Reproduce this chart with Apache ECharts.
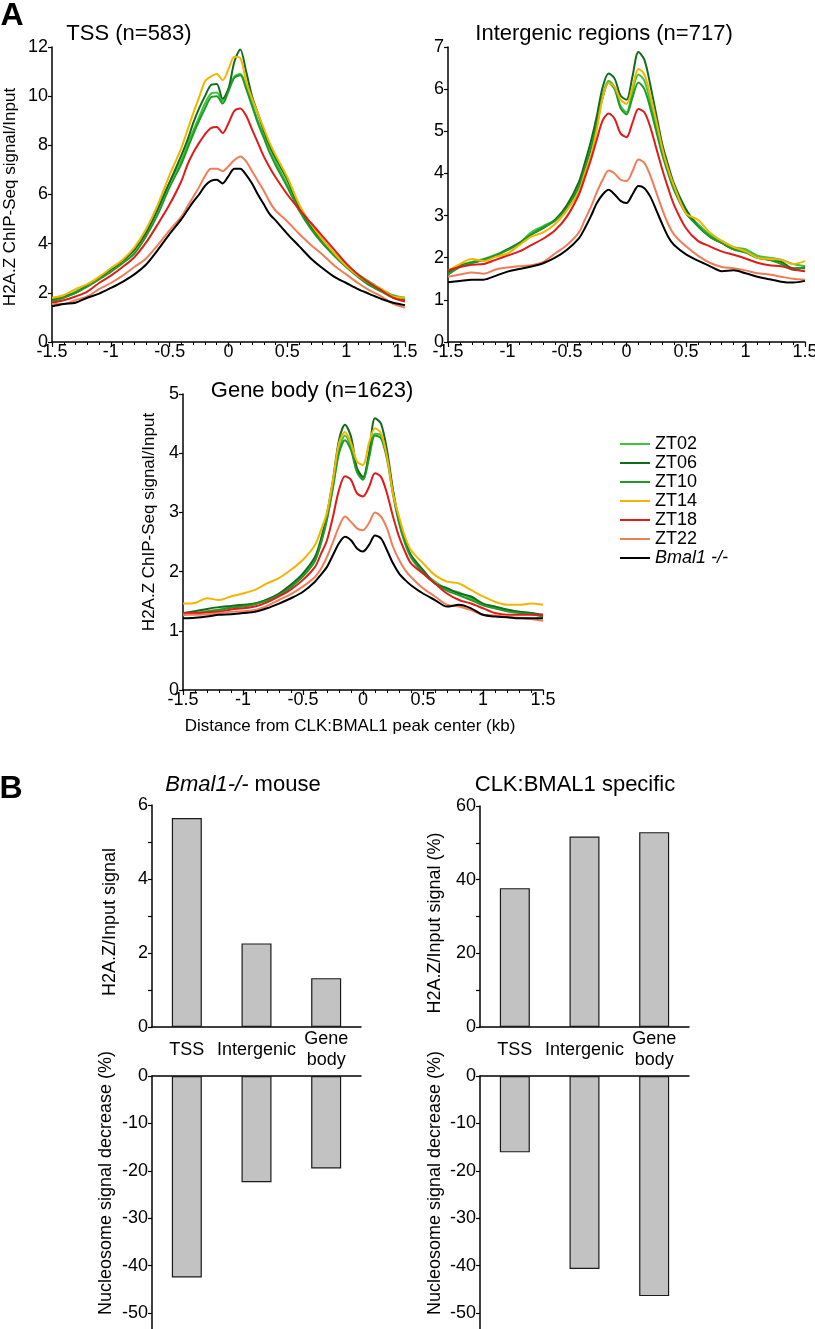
<!DOCTYPE html>
<html>
<head>
<meta charset="utf-8">
<script src="https://cdn.jsdelivr.net/npm/echarts@6/dist/echarts.min.js"></script>
<style>
html,body{margin:0;padding:0;background:#fff;}
#chart{width:815px;height:1329px;}
</style>
</head>
<body>
<div id="chart"></div>
<script>
// ---------- DATA ----------
const xs = [-1.5,-1.4,-1.3,-1.2,-1.1,-1.0,-0.9,-0.8,-0.7,-0.6,-0.5,-0.4,-0.35,-0.3,-0.25,-0.2,-0.15,-0.1,-0.05,0,0.05,0.1,0.15,0.2,0.25,0.3,0.35,0.4,0.5,0.6,0.7,0.8,0.9,1.0,1.1,1.2,1.3,1.4,1.5];
const seriesNames = ['ZT02','ZT06','ZT10','ZT14','ZT18','ZT22','Bmal1 -/-'];

// TSS (n=583)
const tssZT02 = [1.75,1.85,2.05,2.3,2.6,2.95,3.3,3.75,4.45,5.5,6.5,7.4, 8.0,8.6,9.15,9.7,10.1,10.15,9.8,10.3,10.8,10.9,10.4,9.7,9.0,8.4,7.9, 7.35,6.4,5.5,4.75,4.15,3.6,3.15,2.75,2.45,2.15,1.9,1.8];
const tssZT06 = [1.7,1.85,2.0,2.3,2.6,2.95,3.3,3.75,4.45,5.4,6.5,7.6, 8.2,8.9,9.5,10.0,10.45,10.5,9.9,10.3,11.4,11.9,11.0,10.0,9.3,8.6,8.0, 7.5,6.6,5.5,4.7,4.1,3.55,3.1,2.7,2.35,2.1,1.85,1.75];
const tssZT10 = [1.65,1.8,2.0,2.25,2.55,2.85,3.2,3.6,4.3,5.2,6.3,7.25, 7.85,8.45,9.0,9.5,9.95,10.0,9.7,10.2,10.75,10.85,10.3,9.6,8.9,8.3,7.7, 7.2,6.3,5.35,4.6,4.0,3.5,3.05,2.65,2.3,2.05,1.8,1.7];
const tssZT14 = [1.8,1.9,2.15,2.35,2.65,3.0,3.35,3.85,4.6,5.6,6.8,7.9, 8.6,9.3,9.95,10.6,10.8,10.9,10.65,11.1,11.6,11.55,10.6,9.9,9.3,8.7,8.1, 7.6,6.7,5.6,4.8,4.15,3.6,3.1,2.7,2.4,2.15,1.85,1.8];
const tssZT18 = [1.6,1.7,1.85,2.05,2.4,2.7,3.05,3.45,4.05,4.8,5.6,6.55, 7.2,7.7,8.1,8.45,8.7,8.75,8.5,8.9,9.4,9.5,9.2,8.65,8.1,7.55,7.1, 6.7,6.0,5.4,4.85,4.3,3.75,3.2,2.75,2.4,2.1,1.8,1.65];
const tssZT22 = [1.55,1.55,1.7,1.85,2.15,2.4,2.7,3.05,3.4,3.95,4.55,5.1, 5.5,5.9,6.3,6.75,7.05,7.05,6.95,7.15,7.4,7.55,7.35,6.95,6.55,6.15,5.7, 5.35,4.9,4.4,3.95,3.55,3.1,2.75,2.4,2.1,1.85,1.55,1.4];
const tssBmal = [1.45,1.55,1.6,1.8,1.97,2.2,2.45,2.75,3.15,3.75,4.4,5.0, 5.35,5.7,6.0,6.35,6.55,6.6,6.45,6.75,7.05,7.05,6.8,6.45,6.0,5.6,5.2, 4.95,4.4,3.9,3.4,3.0,2.65,2.4,2.15,1.95,1.75,1.6,1.5];

// Intergenic regions (n=717)
const igZT02 = [1.65,1.82,1.9,1.97,2.07,2.2,2.35,2.6,2.75,2.9,3.2,3.7, 4.15,4.6,5.2,5.85,6.2,6.05,5.6,5.45,5.95,6.35,6.2,5.7,5.1,4.5,4.05, 3.65,3.1,2.8,2.55,2.4,2.25,2.2,2.05,2.0,1.95,1.85,1.8];
const igZT06 = [1.65,1.8,1.88,1.95,2.05,2.2,2.35,2.55,2.7,2.9,3.25,3.8, 4.25,4.75,5.35,6.05,6.37,6.25,5.85,5.75,6.3,6.88,6.7,6.1,5.4,4.7,4.2, 3.75,3.15,2.75,2.5,2.35,2.2,2.15,2.0,1.95,1.9,1.75,1.75];
const igZT10 = [1.6,1.78,1.87,1.95,2.05,2.18,2.33,2.55,2.72,2.88,3.18,3.68, 4.12,4.58,5.15,5.8,6.15,6.0,5.55,5.4,5.8,6.16,6.0,5.55,5.0,4.45,4.0, 3.6,3.05,2.75,2.5,2.35,2.2,2.12,2.0,1.95,1.85,1.72,1.78];
const igZT14 = [1.7,1.85,1.97,1.92,2.02,2.1,2.3,2.5,2.6,2.8,3.13,3.57, 4.0,4.4,5.03,5.8,6.15,6.05,5.75,5.65,6.05,6.48,6.35,5.85,5.25,4.6,4.1, 3.7,3.05,2.9,2.6,2.4,2.25,2.15,2.0,1.97,1.95,1.85,1.92];
const igZT18 = [1.7,1.78,1.83,1.85,1.95,2.05,2.15,2.3,2.45,2.65,2.98,3.5, 3.9,4.32,4.8,5.26,5.42,5.3,4.95,4.86,5.2,5.53,5.45,5.1,4.6,4.1,3.65, 3.25,2.7,2.4,2.27,2.15,2.07,1.98,1.88,1.82,1.8,1.72,1.68];
const igZT22 = [1.55,1.6,1.65,1.62,1.72,1.77,1.8,1.82,1.9,2.1,2.3,2.6, 2.9,3.2,3.55,3.85,4.07,4.0,3.85,3.82,4.05,4.33,4.25,3.95,3.55,3.15,2.8, 2.55,2.27,2.05,1.88,1.78,1.75,1.7,1.63,1.6,1.55,1.5,1.48];
const igBmal = [1.42,1.45,1.48,1.48,1.57,1.67,1.73,1.79,1.87,2.0,2.19,2.46, 2.7,2.98,3.29,3.5,3.61,3.5,3.35,3.3,3.5,3.7,3.65,3.45,3.13,2.8,2.5, 2.3,2.08,1.93,1.8,1.68,1.7,1.63,1.55,1.49,1.43,1.41,1.45];

// Gene body (n=1623)
const gbZT02 = [1.28,1.3,1.33,1.36,1.4,1.42,1.46,1.52,1.6,1.75,1.93,2.2, 2.5,2.9,3.45,4.05,4.3,4.1,3.7,3.56,3.95,4.33,4.3,3.95,3.35,2.85,2.5, 2.27,2.0,1.83,1.7,1.65,1.55,1.45,1.4,1.35,1.32,1.3,1.25];
const gbZT06 = [1.3,1.33,1.37,1.4,1.42,1.44,1.46,1.53,1.63,1.78,1.97,2.25, 2.55,2.98,3.55,4.22,4.48,4.28,3.75,3.6,4.0,4.59,4.5,4.05,3.38,2.87,2.53, 2.28,2.03,1.8,1.72,1.63,1.58,1.46,1.41,1.36,1.32,1.3,1.27];
const gbZT10 = [1.27,1.29,1.32,1.35,1.39,1.41,1.45,1.51,1.6,1.74,1.92,2.18, 2.48,2.88,3.42,4.0,4.22,4.05,3.68,3.55,3.92,4.3,4.25,3.9,3.3,2.82,2.48, 2.24,1.98,1.8,1.68,1.6,1.52,1.43,1.38,1.33,1.3,1.28,1.24];
const gbZT14 = [1.46,1.47,1.55,1.52,1.58,1.63,1.69,1.8,1.89,2.03,2.2,2.45, 2.7,3.0,3.55,4.17,4.36,4.17,3.86,3.8,4.17,4.42,4.34,3.94,3.32,2.93,2.59, 2.36,2.14,1.94,1.83,1.8,1.69,1.58,1.49,1.44,1.44,1.46,1.44];
const gbZT18 = [1.3,1.3,1.31,1.32,1.36,1.38,1.41,1.48,1.58,1.7,1.86,2.08, 2.3,2.53,2.93,3.38,3.61,3.55,3.32,3.27,3.43,3.66,3.6,3.32,2.93,2.59,2.34, 2.14,1.97,1.8,1.63,1.52,1.46,1.38,1.3,1.27,1.27,1.27,1.27];
const gbZT22 = [1.27,1.27,1.28,1.3,1.32,1.33,1.35,1.42,1.52,1.62,1.75,1.91, 2.05,2.25,2.5,2.76,2.93,2.84,2.73,2.7,2.82,3.0,2.93,2.73,2.42,2.2,2.03, 1.91,1.72,1.58,1.44,1.41,1.35,1.27,1.26,1.24,1.22,1.2,1.17];
const gbBmal = [1.21,1.22,1.24,1.27,1.28,1.3,1.32,1.38,1.46,1.55,1.66,1.83, 1.95,2.08,2.28,2.48,2.59,2.53,2.39,2.34,2.45,2.61,2.56,2.36,2.14,1.97,1.86, 1.77,1.63,1.52,1.41,1.44,1.38,1.27,1.24,1.23,1.21,1.21,1.21];

// Panel B
const bCategories = ['TSS','Intergenic','Gene\nbody'];
const bmalSignal = [5.65, 2.26, 1.32];
const bmalDecrease = [-42.5, -22.4, -19.5];
const specificSignal = [37.7, 51.7, 52.9];
const specificDecrease = [-16.1, -40.7, -46.4];

// ---------- STYLE ----------
const FONT = '"Liberation Sans", Arial, Helvetica, sans-serif';
const lineColors = ['#3cc43c','#146b1c','#1f9b26','#f3b500','#e01b1b','#f07d58','#000000'];
const panels = [
  [tssZT02,tssZT06,tssZT10,tssZT14,tssZT18,tssZT22,tssBmal],
  [igZT02,igZT06,igZT10,igZT14,igZT18,igZT22,igBmal],
  [gbZT02,gbZT06,gbZT10,gbZT14,gbZT18,gbZT22,gbBmal]
];
const axisLineStyle = {color:'#000', width:1.5};

const grids = [
  {left:52, top:47, width:353, height:295},
  {left:448, top:47, width:357, height:295},
  {left:183, top:394, width:360, height:296},
  {left:152, top:805, width:209, height:222},
  {left:152, top:1076, width:209, height:284.4},
  {left:480, top:806, width:209, height:221},
  {left:480, top:1076, width:209, height:284.6}
].map(g => Object.assign({outerBoundsMode:'none', containLabel:false}, g));

function curveX(i){
  return {gridIndex:i, type:'value', min:-1.5, max:1.5, interval:0.5,
    axisLine:{show:true, onZero:false, lineStyle:axisLineStyle},
    axisTick:{show:true, length:5, lineStyle:{color:'#000', width:1.2}},
    minorTick:{show:true, splitNumber:5, length:3, lineStyle:{color:'#000', width:1}},
    axisLabel:{fontSize:18, color:'#000', fontFamily:FONT, margin:1},
    splitLine:{show:false}};
}
function curveY(i, max){
  return {gridIndex:i, type:'value', min:0, max:max, interval: max>8?2:1,
    axisLine:{show:true, onZero:false, lineStyle:axisLineStyle},
    axisTick:{show:true, length:4, lineStyle:{color:'#000', width:1.2}},
    axisLabel:{fontSize:18, color:'#000', fontFamily:FONT, margin:4},
    splitLine:{show:false}};
}
function barXTop(i){
  return {gridIndex:i, type:'category', data:bCategories,
    axisLine:{show:true, lineStyle:axisLineStyle},
    axisTick:{show:false},
    axisLabel:{show:true, interval:0, fontSize:18, color:'#000', fontFamily:FONT, margin:23, verticalAlign:'middle', lineHeight:21},
    splitLine:{show:false}};
}
function barXBottom(i){
  return {gridIndex:i, type:'category', data:bCategories, position:'top',
    axisLine:{show:true, lineStyle:axisLineStyle},
    axisTick:{show:false}, axisLabel:{show:false}, splitLine:{show:false}};
}
function barY(i, min, max, interval, minor){
  return {gridIndex:i, type:'value', min:min, max:max, interval:interval,
    axisLine:{show:true, onZero:false, lineStyle:axisLineStyle},
    axisTick:{show:true, length:4, lineStyle:{color:'#000', width:1.2}},
    minorTick:{show:minor, splitNumber:2, length:4, lineStyle:{color:'#000', width:1.2}},
    axisLabel:{fontSize:18, color:'#000', fontFamily:FONT, margin:4},
    splitLine:{show:false}, minorSplitLine:{show:false}};
}

const series = [];
panels.forEach((arrs, p) => {
  arrs.forEach((arr, k) => {
    series.push({
      type:'line', name:seriesNames[k], xAxisIndex:p, yAxisIndex:p,
      data: xs.map((x, i) => [x, arr[i]]),
      symbol:'none', showSymbol:false, smooth:0.3,
      lineStyle:{width:2, color:lineColors[k]},
      itemStyle:{color:lineColors[k]},
      z: 2 + k
    });
  });
});
const barStyle = {color:'#c2c2c2', borderColor:'#1a1a1a', borderWidth:1.2};
[[3, bmalSignal],[4, bmalDecrease],[5, specificSignal],[6, specificDecrease]].forEach(([ax, d]) => {
  series.push({type:'bar', xAxisIndex:ax, yAxisIndex:ax, data:d, barWidth:30, itemStyle:barStyle, silent:true});
});

function txt(text, x, y, size, opts){
  opts = opts || {};
  return {type:'text', x:x, y:y, rotation: opts.rot ? Math.PI/2 : 0, z:100,
    style:{text:text, fontSize:size, fontFamily:FONT, fontWeight: opts.bold ? 'bold' : 'normal',
      fill:'#000', align:'center', verticalAlign:'middle', textAlign:'center', textVerticalAlign:'middle',
      rich: opts.rich || undefined}};
}

const option = {
  animation:false,
  backgroundColor:'#fff',
  textStyle:{fontFamily:FONT},
  grid: grids,
  xAxis: [curveX(0), curveX(1), curveX(2), barXTop(3), barXBottom(4), barXTop(5), barXBottom(6)],
  yAxis: [curveY(0,12), curveY(1,7), curveY(2,5),
    barY(3, 0, 6, 2, true), barY(4, -60, 0, 10, false),
    barY(5, 0, 60, 20, true), barY(6, -60, 0, 10, false)],
  legend: {
    data: seriesNames.map(n => ({name:n, icon:'rect'})), orient:'vertical', left:620, top:434.5,
    padding:0, itemWidth:30, itemHeight:2, itemGap:0,
    textStyle:{fontSize:18, color:'#000', fontFamily:FONT, lineHeight:19,
      rich:{i:{fontStyle:'italic', fontSize:18, fontFamily:FONT, lineHeight:19, color:'#000'}}},
    formatter: function(name){ return name === 'Bmal1 -/-' ? '{i|Bmal1 -/-}' : name; },
    selectedMode:false
  },
  graphic: [
    txt('A', 12, 16, 32, {bold:true}),
    txt('TSS (n=583)', 129, 34, 22),
    txt('Intergenic regions (n=717)', 604, 34, 22),
    txt('Gene body (n=1623)', 312, 391, 22),
    txt('H2A.Z ChIP-Seq signal/Input', 10, 197, 17, {rot:true}),
    txt('H2A.Z ChIP-Seq signal/Input', 149, 522, 17, {rot:true}),
    txt('Distance from CLK:BMAL1 peak center (kb)', 350, 726, 17),
    txt('B', 11, 789, 32, {bold:true}),
    txt('{i|Bmal1-/-} mouse', 243, 785, 22, {rich:{i:{fontStyle:'italic', fontSize:22, fontFamily:FONT, fill:'#000'}}}),
    txt('CLK:BMAL1 specific', 575, 785, 22),
    txt('H2A.Z/Input signal', 110, 922, 18, {rot:true}),
    txt('Nucleosome signal decrease (%)', 106, 1183, 18, {rot:true}),
    txt('H2A.Z/Input signal (%)', 435, 923, 18, {rot:true}),
    txt('Nucleosome signal decrease (%)', 435, 1183, 18, {rot:true})
  ],
  series: series
};

const chart = echarts.init(document.getElementById('chart'), null, {renderer:'canvas', width:815, height:1329});
chart.setOption(option);
</script>
</body>
</html>
